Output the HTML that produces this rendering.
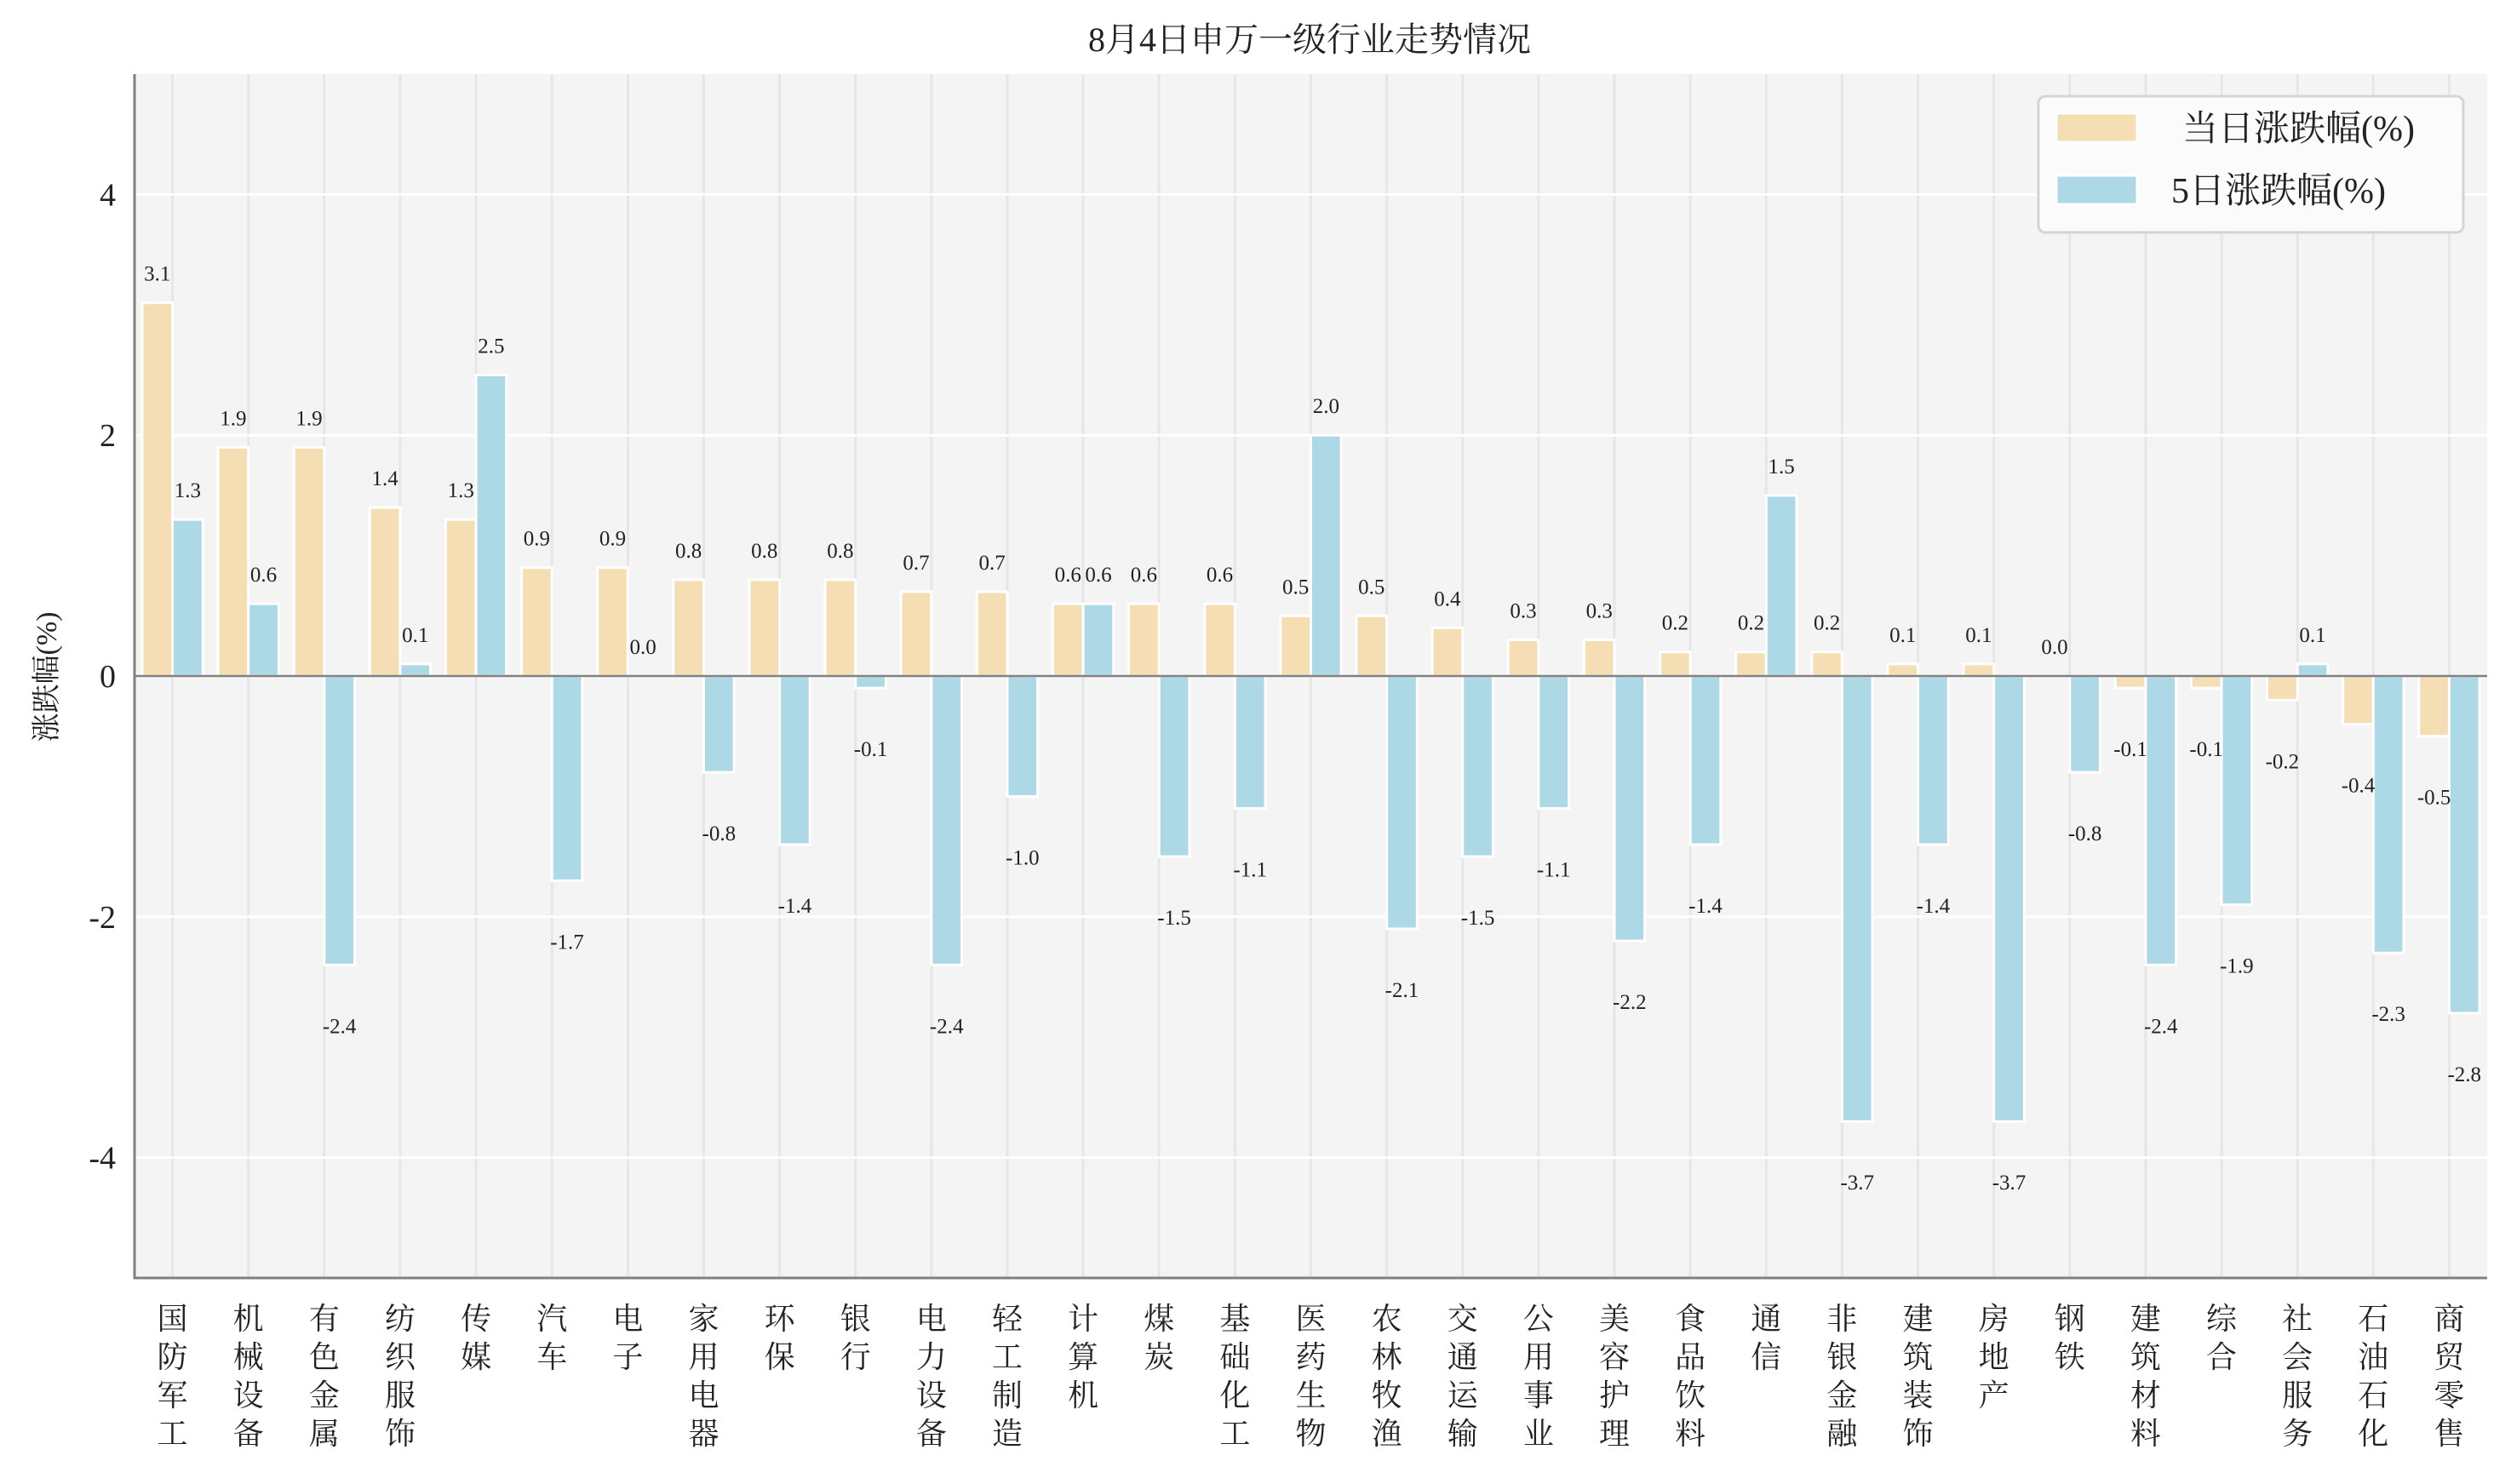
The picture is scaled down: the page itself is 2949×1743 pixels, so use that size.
<!DOCTYPE html>
<html><head><meta charset="utf-8">
<style>
html,body{margin:0;padding:0;background:#fff;}
svg{display:block;font-family:"Liberation Serif","Noto Serif CJK SC",serif;}
</style></head>
<body>
<svg id="chart" width="2949" height="1743" viewBox="0 0 2949 1743" xmlns="http://www.w3.org/2000/svg">
<rect x="0" y="0" width="2949" height="1743" fill="#fff"/>
<text x="1538" y="60" font-size="40" text-anchor="middle" fill="#222">8月4日申万一级行业走势情况</text>
<rect x="158" y="87" width="2763" height="1414" fill="#f4f4f4"/>
<g id="grid"></g>
<g id="bars"></g>
<g id="labels"></g>
<g id="axes"></g>
<text transform="translate(66,795) rotate(-90)" font-size="34" text-anchor="middle" fill="#222">涨跌幅(%)</text>
<g>
<rect x="2394" y="113" width="499" height="160" rx="8" fill="#fbfbfb" stroke="#d4d4d4" stroke-width="3"/>
<rect x="2415" y="133" width="95" height="34" fill="#f5deb3" stroke="#fff" stroke-width="3"/>
<text x="2563" y="165" font-size="42" fill="#222">当日涨跌幅(%)</text>
<rect x="2415" y="206" width="95" height="34" fill="#add8e6" stroke="#fff" stroke-width="3"/>
<text x="2550" y="238" font-size="42" fill="#222">5日涨跌幅(%)</text>
</g>
</svg>
<script>
const categories = ["国防军工","机械设备","有色金属","纺织服饰","传媒","汽车","电子","家用电器","环保","银行","电力设备","轻工制造","计算机","煤炭","基础化工","医药生物","农林牧渔","交通运输","公用事业","美容护理","食品饮料","通信","非银金融","建筑装饰","房地产","钢铁","建筑材料","综合","社会服务","石油石化","商贸零售"];
const dailyValues = [3.1,1.9,1.9,1.4,1.3,0.9,0.9,0.8,0.8,0.8,0.7,0.7,0.6,0.6,0.6,0.5,0.5,0.4,0.3,0.3,0.2,0.2,0.2,0.1,0.1,0.0,-0.1,-0.1,-0.2,-0.4,-0.5];
const fiveDayValues = [1.3,0.6,-2.4,0.1,2.5,-1.7,0.0,-0.8,-1.4,-0.1,-2.4,-1.0,0.6,-1.5,-1.1,2.0,-2.1,-1.5,-1.1,-2.2,-1.4,1.5,-3.7,-1.4,-3.7,-0.8,-2.4,-1.9,0.1,-2.3,-2.8];
const yTicks = [-4,-2,0,2,4];

const NS = "http://www.w3.org/2000/svg";
const L = 158, R = 2921, T = 87, B = 1501;
const yMin = -5, yMax = 5;
const n = categories.length;
const step = (R - L) / n;
function xCenter(i){ return L + step * (i + 0.5); }
function yPos(v){ return B - (v - yMin) / (yMax - yMin) * (B - T); }
function mk(tag, attrs, parent){
  const e = document.createElementNS(NS, tag);
  for (const k in attrs) e.setAttribute(k, attrs[k]);
  parent.appendChild(e);
  return e;
}
const grid = document.getElementById('grid');
const bars = document.getElementById('bars');
const labels = document.getElementById('labels');
const axes = document.getElementById('axes');

for (let i = 0; i < n; i++) {
  const g = mk('line', {x1: xCenter(i), x2: xCenter(i), y1: T, y2: B, stroke: '#e6e6e6', 'stroke-width': 3}, grid);
  
  
}
yTicks.forEach(t => {
  const g = mk('line', {x1: L, x2: R, y1: yPos(t), y2: yPos(t), stroke: '#ffffff', 'stroke-width': 3}, grid);
  
  
  const tl = mk('text', {x: L - 22, y: yPos(t) + 13, 'font-size': 38, 'text-anchor': 'end', fill: '#222'}, axes);
  tl.textContent = String(t);
  
  
});

const bw = step * 0.4;
function drawBar(i, v, offset, color, name){
  const x = xCenter(i) + offset;
  const y0 = yPos(0), y1 = yPos(v);
  const r = mk('rect', {x: x - bw/2, y: Math.min(y0, y1), width: bw, height: Math.max(Math.abs(y1 - y0), 0.01), fill: color, stroke: '#fff', 'stroke-width': 3}, bars);
  
  
  const ly = v >= 0 ? y1 - 26 : y1 + 80;
  const t = mk('text', {x: x, y: ly, 'font-size': 25, 'text-anchor': 'middle', fill: '#222'}, labels);
  t.textContent = v.toFixed(1);
  
  
}
for (let i = 0; i < n; i++) {
  drawBar(i, dailyValues[i], -bw/2, '#f5deb3', 'bar-daily');
  drawBar(i, fiveDayValues[i], bw/2, '#add8e6', 'bar-5day');
  const chars = Array.from(categories[i]);
  const t = mk('text', {'font-size': 36, 'text-anchor': 'middle', fill: '#222'}, axes);
  
  
  chars.forEach((c, k) => {
    const ts = mk('tspan', {x: xCenter(i), y: 1561 + k * 45}, t);
    ts.textContent = c;
  });
}
const zl = mk('line', {x1: L, x2: R, y1: yPos(0), y2: yPos(0), stroke: '#808080', 'stroke-width': 2.5}, axes);


const la = mk('line', {x1: L, x2: L, y1: T, y2: B + 1.5, stroke: '#808080', 'stroke-width': 3}, axes);


const ba = mk('line', {x1: L - 1.5, x2: R, y1: B, y2: B, stroke: '#808080', 'stroke-width': 3}, axes);


</script>
</body></html>
